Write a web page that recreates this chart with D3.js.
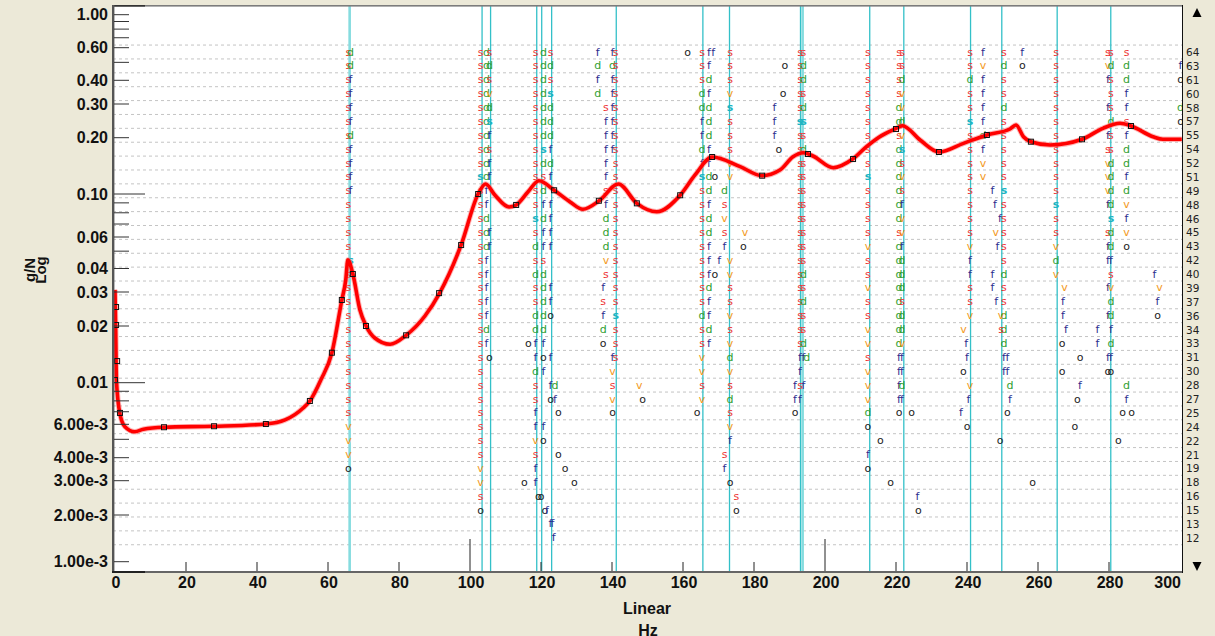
<!DOCTYPE html>
<html>
<head>
<meta charset="utf-8">
<script src="https://cdn.jsdelivr.net/npm/d3@7"></script>
<style>
body { margin: 0; background: #ECE9D8; }
svg { display: block; }
</style>
</head>
<body>
<div class="container"></div>
<script>
// response curve (Hz, g/N)
var curveHz = [0, 0.2, 0.4, 1.4, 2.8, 5.6, 8.0, 13.8, 27.9, 42.5, 47.9, 53.0, 54.9, 58.0, 61.1, 63.9, 65.0, 65.6, 67.0, 69.0, 70.7, 73.2, 77.5, 82.0, 87.3, 91.4, 97.5, 102.3, 104.4, 107.0, 111.0, 113.0, 116.3, 119.4, 123.7, 128.2, 131.8, 136.4, 141.8, 147.0, 152.6, 159.2, 163.4, 168.2, 176.1, 182.2, 187.3, 191.0, 193.9, 196.6, 202.3, 207.8, 211.7, 215.2, 219.9, 221.8, 226.8, 232.1, 239.0, 245.6, 252.1, 253.8, 255.9, 258.0, 263.4, 272.4, 278.3, 283.1, 286.2, 292.4, 295.2, 300.5];
var curveVal = [0.0308, 0.0190, 0.0103, 0.00681, 0.00583, 0.00548, 0.00565, 0.00579, 0.00586, 0.00602, 0.00633, 0.00733, 0.00799, 0.01036, 0.01443, 0.02727, 0.03475, 0.04464, 0.0374, 0.0242, 0.02007, 0.01727, 0.0160, 0.01785, 0.02253, 0.02954, 0.05414, 0.100, 0.1131, 0.0988, 0.0857, 0.0878, 0.1025, 0.1178, 0.1047, 0.0910, 0.0834, 0.0923, 0.1131, 0.0895, 0.0810, 0.0985, 0.1264, 0.1577, 0.1400, 0.1253, 0.1343, 0.1582, 0.1663, 0.1596, 0.1382, 0.1538, 0.1790, 0.2010, 0.2228, 0.2310, 0.1944, 0.1677, 0.1866, 0.2066, 0.2220, 0.2330, 0.2024, 0.1904, 0.1828, 0.1961, 0.2239, 0.2378, 0.2302, 0.2024, 0.1961, 0.1961];

// measured points on the curve
var markHz = [0.3, 0.3, 0.6, 0.0, 1.4, 13.8, 27.9, 42.5, 54.9, 61.1, 63.9, 67.0, 70.7, 82.0, 91.3, 97.5, 102.3, 113.0, 123.7, 136.3, 147.0, 159.2, 168.2, 182.3, 195.2, 207.9, 220.0, 232.1, 245.6, 258.0, 272.4, 286.2];
var markVal = [0.02508, 0.02024, 0.01303, 0.01033, 0.0069, 0.00579, 0.00586, 0.00602, 0.00799, 0.01443, 0.02727, 0.0374, 0.0200, 0.01785, 0.0296, 0.0541, 0.100, 0.0878, 0.1047, 0.0923, 0.0895, 0.0985, 0.1577, 0.1253, 0.1636, 0.1538, 0.2220, 0.1677, 0.2066, 0.1904, 0.1961, 0.2302];

// vertical marker lines (Hz) and which are drawn pale
var lineHz = [66.1, 103.4, 105.8, 118.8, 120.2, 123.0, 141.2, 165.6, 173.1, 193.1, 193.7, 212.6, 222.2, 241.0, 249.8, 265.4, 280.5];
var linePale = [66.1, 193.7];

// axes
var xTickVals = [0, 20, 40, 60, 80, 100, 120, 140, 160, 180, 200, 220, 240, 260, 280, 300];
var xMajor = [100, 200];
var yTickVals = [1, 0.6, 0.4, 0.3, 0.2, 0.1, 0.06, 0.04, 0.03, 0.02, 0.01, 0.006, 0.004, 0.003, 0.002, 0.001];
var yTickLabels = ["1.00", "0.60", "0.40", "0.30", "0.20", "0.10", "0.06", "0.04", "0.03", "0.02", "0.01", "6.00e-3", "4.00e-3", "3.00e-3", "2.00e-3", "1.00e-3"];
var yMinor = [0.9, 0.8, 0.7, 0.5, 0.09, 0.08, 0.07, 0.05, 0.009, 0.008, 0.007, 0.005];
var yMajor = [0.1, 0.01];
var rowLabels = [64, 63, 61, 60, 58, 57, 55, 54, 52, 51, 49, 48, 46, 45, 43, 42, 40, 39, 37, 36, 34, 33, 31, 30, 28, 27, 25, 24, 22, 21, 19, 18, 16, 15, 13, 12];

// order letters: one string per column, char index = row (top = 64), '.' = empty, S = cyan s
var letterCols = [
	[65.77, "sssssssssssssssssssssssssssvvvo"],
	[66.34, "ddffffdffff....S"],
	[102.96, "sssssssssSssssssssssssssssssssvvso"],
	[104.65, "ddddddddddffdddfffffdf"],
	[105.49, "sdsvdSfsff...ff.......o"],
	[118.45, "ssssssssssssSsdsdssddffdssffvsff"],
	[120.70, "dddddddSdsdfdffsdddddfof...fo"],
	[122.68, "sdsSdddfdf.ffff..ffo..f.fo........f"],
	[136.0, "fdfd"],
	[138.3, "....sfffffsfdddvs"],
	[137.5, ".................fsfdo"],
	[140.14, "fdffffff..............fvsvo"],
	[141.04, "sssssssssssssssssssSsss"],
	[165.35, "sssddffdfSsssssssssdssvvsv"],
	[167.3, "ffdfdddffddfddfffdffdf"],
	[171.69, "..........dsvsf..............sf"],
	[173.24, "sssvSsssvv.....vvssvsvdvsdsvf..o"],
	[185.77, "....fff"],
	[192.96, "sssssSssssssssssssssssffsf"],
	[193.94, "sddsdSsdssssssssdsdssdf.f"],
	[212.11, "sssssssssSssssvssvssvvsvvvdo.fo"],
	[220.85, "ssssddsddddddsddddddddffffo"],
	[221.69, "ssdvvdvSsvsfvvfdddsddvffdf"],
	[240.85, "ssdssSssssssssvffssv....v"],
	[244.51, "fvffffdfvv"],
	[250.42, "sdssdsssssSsssssdssdddff"],
	[265.07, "sssssssssssSssvdv"],
	[279.7, "svf.f.fsvvvf.sff.f.f..fo"],
	[280.56, "sdsssdssddddSddfsvddfdfo"],
	[284.93, "sddffsfddfdvfvo.........df"],
	[300.14, ".fo.do"]
];

// scattered single letters: [Hz, row, letter]
var letterPts = [
	[116.42, 21, "o"], [124.87, 26, "o"], [124.87, 29, "o"], [126.76, 30, "o"], [115.3, 31, "o"], [129.38, 31, "o"],
	[119.24, 32, "o"], [120.0, 32, "o"], [121.1, 33, "o"], [121.7, 33, "f"], [123.2, 34, "f"],
	[123.94, 24, "d"], [123.94, 25, "f"], [123.6, 35, "f"],
	[147.69, 24, "v"], [148.65, 25, "o"],
	[161.3, 0, "o"], [164.0, 26, "o"], [168.5, 0, "f"], [169.0, 9, "o"], [169.0, 16, "o"], [170.2, 15, "f"],
	[175.0, 32, "s"], [175.0, 33, "o"], [177.46, 13, "v"], [177.0, 14, "o"],
	[187.04, 7, "o"], [188.2, 3, "o"], [188.7, 1, "o"],
	[191.55, 24, "f"], [191.55, 25, "f"], [191.55, 26, "o"], [194.85, 22, "d"],
	[215.63, 28, "o"], [218.5, 31, "o"], [224.42, 26, "o"], [226.06, 32, "f"], [226.3, 33, "o"],
	[239.0, 20, "v"], [239.0, 23, "o"], [238.3, 26, "f"], [239.8, 21, "f"], [240.0, 22, "f"], [240.4, 25, "f"], [240.0, 27, "o"],
	[247.2, 10, "f"], [247.9, 11, "f"], [248.1, 13, "v"], [248.6, 14, "f"], [247.2, 16, "f"], [247.2, 17, "f"], [248.2, 18, "f"],
	[249.3, 12, "f"], [249.3, 28, "o"], [249.6, 19, "v"], [249.6, 20, "s"],
	[251.4, 22, "f"], [251.4, 23, "f"], [251.4, 26, "o"], [252.1, 24, "d"], [252.1, 25, "f"],
	[255.58, 0, "f"], [255.58, 1, "o"], [258.5, 31, "o"],
	[267.5, 17, "v"], [267.0, 18, "f"], [267.0, 19, "f"], [267.9, 20, "f"], [266.8, 21, "o"], [266.8, 23, "o"],
	[271.83, 22, "o"], [271.83, 24, "f"], [271.07, 25, "o"], [270.4, 27, "o"],
	[276.76, 20, "f"], [276.76, 21, "f"],
	[283.86, 26, "o"], [286.34, 26, "o"], [282.62, 28, "o"],
	[292.8, 16, "f"], [294.23, 17, "v"], [293.66, 18, "f"], [293.66, 19, "o"]
];

var letterColor = { s: "#ee3535", d: "#2f9e2f", f: "#2e2e8e", v: "#f39a1e", o: "#222222", S: "#1cb4c2" };

var W = 1215, H = 636;
var plot = { left: 113, right: 1182, top: 5, bottom: 572 };

var x = d3.scaleLinear().domain([0, 300]).range([115, 1180]);
var y = d3.scaleLog().domain(yTickVals)
	.range([14.7, 47.7, 80.3, 104, 137.7, 194, 237, 268.5, 292, 326, 382.7, 424.3, 457.7, 480.7, 515, 561.7]);
var rowY = d3.scaleLinear().domain([0, 35]).range([52, 537.8]);

var svg = d3.select(".container").append("svg")
	.attr("width", W)
	.attr("height", H);

svg.append("rect").attr("width", W).attr("height", H).attr("fill", "#ECE9D8");

svg.append("clipPath").attr("id", "clip")
	.append("rect")
	.attr("x", plot.left).attr("y", plot.top)
	.attr("width", plot.right - plot.left).attr("height", plot.bottom - plot.top);

svg.append("rect")
	.attr("x", plot.left).attr("y", plot.top)
	.attr("width", plot.right - plot.left).attr("height", plot.bottom - plot.top)
	.attr("fill", "#fff");

var inner = svg.append("g").attr("clip-path", "url(#clip)");

// row grid
inner.append("g").selectAll("line").data(d3.range(37)).enter().append("line")
	.attr("x1", plot.left).attr("x2", plot.right)
	.attr("y1", function(d){ return rowY(d - 0.5); })
	.attr("y2", function(d){ return rowY(d - 0.5); })
	.attr("stroke", "#c4c4c4")
	.attr("stroke-dasharray", "3,3");

// vertical lines
inner.append("g").selectAll("line").data(lineHz).enter().append("line")
	.attr("x1", function(d){ return x(d); }).attr("x2", function(d){ return x(d); })
	.attr("y1", plot.top).attr("y2", plot.bottom)
	.attr("stroke", function(d){ return linePale.indexOf(d) >= 0 ? "#86dcdf" : "#33c0c8"; })
	.attr("stroke-width", function(d){ return linePale.indexOf(d) >= 0 ? 2.6 : 1.3; });

// letters
var letters = [];
letterCols.forEach(function(c){
	c[1].split("").forEach(function(ch, i){
		if (ch !== ".") letters.push([c[0], i, ch]);
	});
});
letters = letters.concat(letterPts);

inner.append("g").selectAll("text").data(letters).enter().append("text")
	.attr("x", function(d){ return x(d[0]); })
	.attr("y", function(d){ return rowY(d[1]) + 3.5; })
	.attr("text-anchor", "middle")
	.attr("font-family", "DejaVu Sans, Verdana, sans-serif")
	.attr("font-size", 11)
	.attr("font-weight", function(d){ return d[2] === "S" ? "bold" : "normal"; })
	.attr("fill", function(d){ return letterColor[d[2]]; })
	.text(function(d){ return d[2].toLowerCase(); });

// response curve
var curveData = curveHz.map(function(f, i){ return [f, curveVal[i]]; });
var line = d3.line()
	.x(function(d){ return x(d[0]); })
	.y(function(d){ return y(d[1]); })
	.curve(d3.curveMonotoneX);

inner.append("path").datum(curveData)
	.attr("d", line)
	.attr("fill", "none")
	.attr("stroke", "#ff7070")
	.attr("stroke-width", 5.5)
	.attr("stroke-opacity", 0.5);
inner.append("path").datum(curveData)
	.attr("d", line)
	.attr("fill", "none")
	.attr("stroke", "#ff0000")
	.attr("stroke-width", 3.6)
	.attr("stroke-linejoin", "round");

inner.append("g").selectAll("rect").data(markHz).enter().append("rect")
	.attr("x", function(d){ return x(d) - 2.5; })
	.attr("y", function(d, i){ return y(markVal[i]) - 2.5; })
	.attr("width", 5).attr("height", 5)
	.attr("fill", "none")
	.attr("stroke", "#111")
	.attr("stroke-width", 1);

// frame
svg.append("rect").attr("x", plot.left).attr("y", plot.top).attr("width", plot.right - plot.left).attr("height", 1.6).attr("fill", "#7c7c7c");
svg.append("rect").attr("x", plot.left).attr("y", plot.top).attr("width", 32).attr("height", 1.6).attr("fill", "#333");
svg.append("rect").attr("x", plot.left - 1).attr("y", plot.top).attr("width", 2.4).attr("height", plot.bottom - plot.top + 1).attr("fill", "#555");
svg.append("rect").attr("x", plot.left - 1).attr("y", plot.bottom - 1).attr("width", plot.right - plot.left + 1).attr("height", 2).attr("fill", "#666");
svg.append("rect").attr("x", plot.left - 1).attr("y", plot.bottom - 1).attr("width", 33).attr("height", 2).attr("fill", "#222");
svg.append("line").attr("x1", plot.right + 0.5).attr("x2", plot.right + 0.5).attr("y1", plot.top).attr("y2", plot.bottom + 1).attr("stroke", "#111");

// y ticks
var yTicks = yTickVals.concat(yMinor);
svg.append("g").selectAll("line").data(yTicks).enter().append("line")
	.attr("x1", plot.left + 1)
	.attr("x2", function(d){ return yMajor.indexOf(d) >= 0 ? plot.left + 32 : plot.left + 16; })
	.attr("y1", function(d){ return y(d); })
	.attr("y2", function(d){ return y(d); })
	.attr("stroke", "#333")
	.attr("stroke-width", 1);

svg.append("g").selectAll("text").data(yTickVals).enter().append("text")
	.attr("x", 108)
	.attr("y", function(d){ return y(d); })
	.attr("dy", "0.36em")
	.attr("text-anchor", "end")
	.attr("font-family", "Liberation Sans, Arial, sans-serif")
	.attr("font-weight", "bold")
	.attr("font-size", 16)
	.attr("fill", "#111")
	.text(function(d, i){ return yTickLabels[i]; });

// x ticks
svg.append("g").selectAll("line").data(xTickVals.slice(1, -1)).enter().append("line")
	.attr("x1", function(d){ return x(d); }).attr("x2", function(d){ return x(d); })
	.attr("y1", plot.bottom - 1)
	.attr("y2", function(d){ return xMajor.indexOf(d) >= 0 ? plot.bottom - 33 : plot.bottom - 10; })
	.attr("stroke", "#222");

svg.append("g").selectAll("text").data(xTickVals).enter().append("text")
	.attr("x", function(d){ return d === 300 ? x(d) + 1 : x(d) + 1; })
	.attr("y", 588)
	.attr("text-anchor", function(d){ return d === 300 ? "end" : "middle"; })
	.attr("font-family", "Liberation Sans, Arial, sans-serif")
	.attr("font-weight", "bold")
	.attr("font-size", 16)
	.attr("fill", "#111")
	.text(function(d){ return d; });

// right row labels
svg.append("g").selectAll("text").data(rowLabels).enter().append("text")
	.attr("x", 1186)
	.attr("y", function(d, i){ return rowY(i) + 4; })
	.attr("font-family", "DejaVu Sans, Tahoma, sans-serif")
	.attr("font-size", 10.5)
	.attr("fill", "#222")
	.text(function(d){ return d; });

svg.append("path").attr("d", "M1192.5,17 L1201.5,17 L1197,8 Z").attr("fill", "#000");
svg.append("path").attr("d", "M1192.5,562 L1201.5,562 L1197,571 Z").attr("fill", "#000");

// axis titles
svg.append("text")
	.attr("transform", "translate(30,270) rotate(-90)")
	.attr("text-anchor", "middle").attr("dy", "0.35em")
	.attr("font-family", "Liberation Sans, Arial, sans-serif")
	.attr("font-weight", "bold").attr("font-size", 15).attr("fill", "#111")
	.text("g/N");
svg.append("text")
	.attr("transform", "translate(41,270) rotate(-90)")
	.attr("text-anchor", "middle").attr("dy", "0.35em")
	.attr("font-family", "Liberation Sans, Arial, sans-serif")
	.attr("font-weight", "bold").attr("font-size", 15).attr("fill", "#111")
	.text("Log");
svg.append("text")
	.attr("x", 647).attr("y", 614)
	.attr("text-anchor", "middle")
	.attr("font-family", "Liberation Sans, Arial, sans-serif")
	.attr("font-weight", "bold").attr("font-size", 16).attr("fill", "#111")
	.text("Linear");
svg.append("text")
	.attr("x", 648).attr("y", 636)
	.attr("text-anchor", "middle")
	.attr("font-family", "Liberation Sans, Arial, sans-serif")
	.attr("font-weight", "bold").attr("font-size", 16).attr("fill", "#111")
	.text("Hz");
</script>
</body>
</html>
